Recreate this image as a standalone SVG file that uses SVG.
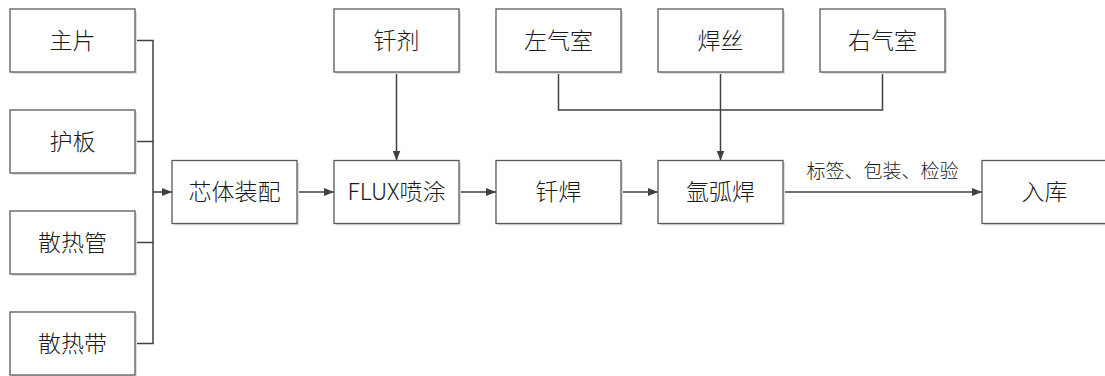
<svg xmlns="http://www.w3.org/2000/svg" width="1105" height="376" viewBox="0 0 1105 376">
<style>
.box{fill:#ffffff;stroke:#595959;stroke-width:1.3}
.sh{fill:#dedede}
.t{font-family:"Noto Sans CJK SC","Open Sans",sans-serif;font-size:23px;font-weight:300;fill:#1a1a1a;text-anchor:middle}
.lbl{font-family:"Noto Sans CJK SC",sans-serif;font-size:19px;font-weight:300;fill:#1a1a1a;text-anchor:middle}
.c{fill:none;stroke:#404040;stroke-width:1.5}
</style>
<defs>
<marker id="ah" viewBox="0 0 10 8" refX="10" refY="4" markerWidth="10" markerHeight="8" markerUnits="userSpaceOnUse" orient="auto">
<path d="M0,0 L10,4 L0,8 Z" fill="#404040"/>
</marker>
<g id="shadow"><rect class="sh" x="2" y="2" width="125" height="63"/></g>
</defs>
<rect width="1105" height="376" fill="#ffffff"/>
<g id="connectors">
<path class="c" d="M135,40.5 H153 V343.5 H135"/>
<path class="c" d="M135,141.5 H153"/>
<path class="c" d="M135,242.5 H153"/>
<path class="c" d="M153,192 H172" marker-end="url(#ah)"/>
<path class="c" d="M297,192 H334" marker-end="url(#ah)"/>
<path class="c" d="M459,192 H496" marker-end="url(#ah)"/>
<path class="c" d="M621,192 H658" marker-end="url(#ah)"/>
<path class="c" d="M783,192 H982" marker-end="url(#ah)"/>
<path class="c" d="M396.5,72 V160.5" marker-end="url(#ah)"/>
<path class="c" d="M558.5,72 V110 H882.5 V72"/>
<path class="c" d="M720.5,72 V160.5" marker-end="url(#ah)"/>
<text class="lbl" x="882.5" y="178">标签、包装、检验</text>
</g>
<g id="n-zhupian"><use href="#shadow" x="10" y="9"/><rect class="box" x="10" y="9" width="125" height="63"/><text class="t" x="72.5" y="49">主片</text></g>
<g id="n-huban"><use href="#shadow" x="10" y="110"/><rect class="box" x="10" y="110" width="125" height="63"/><text class="t" x="72.5" y="150">护板</text></g>
<g id="n-sanreguan"><use href="#shadow" x="10" y="211"/><rect class="box" x="10" y="211" width="125" height="63"/><text class="t" x="72.5" y="251">散热管</text></g>
<g id="n-sanredai"><use href="#shadow" x="10" y="312"/><rect class="box" x="10" y="312" width="125" height="63"/><text class="t" x="72.5" y="352">散热带</text></g>
<g id="n-xinti"><use href="#shadow" x="172" y="160.5"/><rect class="box" x="172" y="160.5" width="125" height="63"/><text class="t" x="234.5" y="200">芯体装配</text></g>
<g id="n-qianji"><use href="#shadow" x="334" y="9"/><rect class="box" x="334" y="9" width="125" height="63"/><text class="t" x="396.5" y="49">钎剂</text></g>
<g id="n-flux"><use href="#shadow" x="334" y="160.5"/><rect class="box" x="334" y="160.5" width="125" height="63"/><text class="t" x="396.5" y="200">FLUX喷涂</text></g>
<g id="n-zuoqishi"><use href="#shadow" x="496" y="9"/><rect class="box" x="496" y="9" width="125" height="63"/><text class="t" x="558.5" y="49">左气室</text></g>
<g id="n-qianhan"><use href="#shadow" x="496" y="160.5"/><rect class="box" x="496" y="160.5" width="125" height="63"/><text class="t" x="558.5" y="200">钎焊</text></g>
<g id="n-hansi"><use href="#shadow" x="658" y="9"/><rect class="box" x="658" y="9" width="125" height="63"/><text class="t" x="720.5" y="49">焊丝</text></g>
<g id="n-yahuhan"><use href="#shadow" x="658" y="160.5"/><rect class="box" x="658" y="160.5" width="125" height="63"/><text class="t" x="720.5" y="200">氩弧焊</text></g>
<g id="n-youqishi"><use href="#shadow" x="820" y="9"/><rect class="box" x="820" y="9" width="125" height="63"/><text class="t" x="882.5" y="49">右气室</text></g>
<g id="n-ruku"><use href="#shadow" x="982" y="160.5"/><rect class="box" x="982" y="160.5" width="125" height="63"/><text class="t" x="1044.5" y="200">入库</text></g>
</svg>
